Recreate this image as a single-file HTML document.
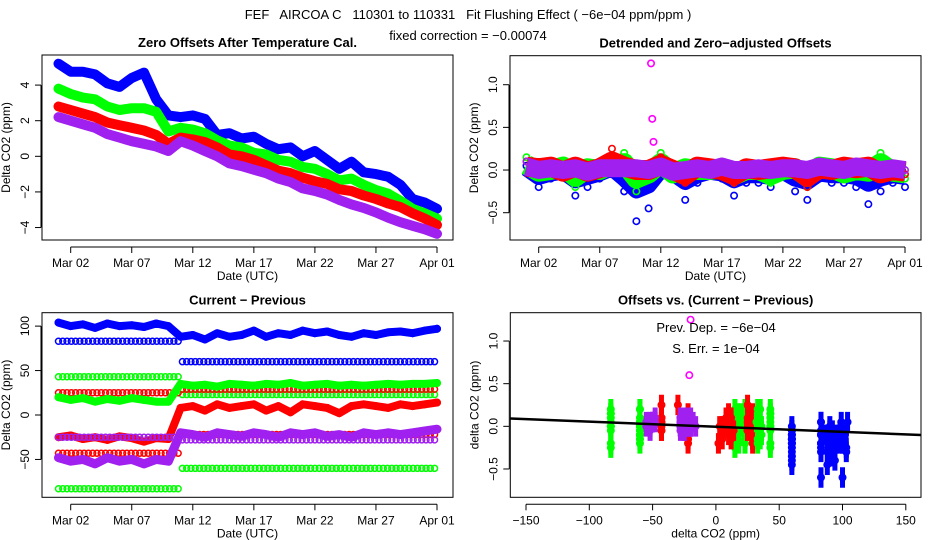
<!DOCTYPE html>
<html><head><meta charset="utf-8"><style>
html,body{margin:0;padding:0;background:#fff;}
svg{display:block;font-family:"Liberation Sans",sans-serif;}
</style></head><body>
<svg id="c" width="936" height="540" xmlns="http://www.w3.org/2000/svg">
<text x="468" y="19" text-anchor="middle" font-size="13" xml:space="preserve">FEF   AIRCOA C   110301 to 110331   Fit Flushing Effect ( −6e−04 ppm/ppm )</text>
<text x="468" y="40" text-anchor="middle" font-size="13">fixed correction = −0.00074</text>
</svg>
<script>
// ---- data ----
const days=[0,1,2,3,4,5,6,7,8,9,10,11,12,13,14,15,16,17,18,19,20,21,22,23,24,25,26,27,28,29,30,31];
const dateTicks=[1,6,11,16,21,26,31];
const dateLabels=["Mar 02","Mar 07","Mar 12","Mar 17","Mar 22","Mar 27","Apr 01"];
// panel 1 offsets
const offBlue=[5.2,4.75,4.75,4.6,4.1,3.9,4.4,4.7,3.2,2.3,2.2,2.3,2.1,1.2,1.3,1.0,1.1,0.7,0.4,0.5,0.0,0.3,-0.2,-0.7,-0.3,-0.9,-1.0,-1.15,-1.6,-2.4,-2.6,-2.95];
const offGreen=[3.8,3.5,3.3,3.2,2.8,2.6,2.7,2.7,2.5,1.4,1.6,1.5,1.3,0.9,0.6,0.5,0.2,0.1,-0.2,-0.3,-0.6,-0.7,-1.0,-1.35,-1.25,-1.6,-1.9,-2.1,-2.5,-2.95,-3.2,-3.5];
const offRed=[2.8,2.6,2.4,2.2,1.9,1.75,1.6,1.45,1.2,0.7,1.05,0.95,0.8,0.5,0.1,0.0,-0.2,-0.5,-0.8,-0.95,-1.2,-1.4,-1.55,-1.85,-1.95,-2.2,-2.4,-2.65,-2.85,-3.2,-3.5,-3.85];
const offPurple=[2.2,2.0,1.8,1.6,1.25,1.05,0.85,0.7,0.55,0.3,0.85,0.6,0.3,0.0,-0.4,-0.55,-0.75,-0.95,-1.25,-1.45,-1.8,-1.95,-2.15,-2.45,-2.7,-2.9,-3.15,-3.45,-3.7,-3.9,-4.1,-4.35];
const yTicks1=[-4,-2,0,2,4];
// panel 2 residuals
const resBlue=[0.05,-0.2,-0.1,-0.05,-0.3,-0.2,-0.1,0.05,-0.25,-0.6,-0.45,0.0,-0.1,-0.35,-0.15,-0.05,-0.1,-0.3,-0.15,-0.15,-0.2,-0.05,-0.25,-0.35,-0.1,-0.15,-0.15,-0.2,-0.4,-0.25,-0.15,-0.2];
const resGreen=[0.15,-0.05,0.0,0.1,-0.2,0.05,0.0,0.15,0.2,-0.25,-0.1,0.2,-0.1,0.05,0.0,0.0,0.05,-0.15,0.0,0.0,-0.15,0.0,0.05,-0.2,0.1,0.05,-0.1,0.0,-0.05,0.2,-0.05,-0.1];
const resRed=[0.1,0.05,0.1,-0.05,0.1,-0.05,0.05,0.25,0.1,0.0,0.0,0.15,0.0,-0.15,0.1,0.05,0.0,-0.15,0.05,0.0,0.05,0.1,0.05,-0.2,0.05,0.0,0.1,0.05,0.1,-0.1,0.0,-0.05];
const resPurple=[0.1,0.0,0.05,0.0,0.05,-0.05,0.05,0.05,0.05,0.05,0.0,0.1,-0.05,0.0,0.05,0.0,0.1,0.0,0.0,0.05,0.0,0.05,0.05,0.0,0.1,0.05,0.0,0.1,0.05,0.0,0.05,0.0];
const outDays=[10.2,10.3,10.4];
const outPurple=[1.25,0.6,0.33];
const yTicks2=[-0.5,0.0,0.5,1.0];
const yLabels2=["−0.5","0.0","0.5","1.0"];
// panel 3 current - previous
const cpBlue=[104,100,102,98,103,100,101,99,103,100,88,90,85,92,88,90,95,88,92,90,95,92,94,90,88,92,90,93,94,92,95,97];
const cpGreen=[20,17,19,15,18,16,19,17,15,15,35,33,34,32,35,34,33,35,34,36,33,34,35,33,34,33,34,35,34,35,35,36];
const cpRed=[-25,-23,-27,-25,-28,-24,-26,-30,-26,-27,8,10,5,12,8,10,12,5,10,3,12,10,8,2,10,12,10,8,12,10,12,14];
const cpPurple=[-48,-52,-50,-55,-48,-52,-50,-55,-50,-52,-20,-22,-25,-20,-22,-24,-20,-22,-25,-20,-22,-20,-24,-22,-25,-20,-22,-20,-22,-20,-18,-16];
const constBlue=[83,60];
const constGreenA=[43,23];
const constGreenB=[-83,-60];
const constRedA=[25,29];
const constRedB=[-43,-22];
const constPurple=[-25,-28];
const breakDay=9.8;
const yTicks3=[-50,0,50,100];
const yLabels3=["−50","0","50","100"];
// panel 4
const xTicks4=[-150,-100,-50,0,50,100,150];
const xLabels4=["−150","−100","−50","0","50","100","150"];
const fitSlope=-6e-4;
const fitIntercept=-0.005;

const C={blue:"#0000ff",green:"#00ff00",red:"#ff0000",purple:"#a020f0"};
const svg=document.getElementById('c');
const NS="http://www.w3.org/2000/svg";
function mk(tag,attrs,parent){const e=document.createElementNS(NS,tag);for(const k in attrs)e.setAttribute(k,attrs[k]);(parent||svg).appendChild(e);return e;}

function panel(o){
  o.sx=v=>o.x0+(v-o.xmin)/(o.xmax-o.xmin)*(o.x1-o.x0);
  o.sy=v=>o.y1-(v-o.ymin)/(o.ymax-o.ymin)*(o.y1-o.y0);
  const g=mk('g',{});
  
  
  o.g=g;
  const clip=mk('clipPath',{id:o.name+'-clip'},g);
  mk('rect',{x:o.x0,y:o.y0,width:o.x1-o.x0,height:o.y1-o.y0},clip);
  o.plot=mk('g',{'clip-path':'url(#'+o.name+'-clip)'},g);
  
  
  return o;
}
function frame(o,title,xt,xl,yt,yl,xlab,ylab){
  const g=o.g;
  const b=mk('rect',{x:o.x0,y:o.y0,width:o.x1-o.x0,height:o.y1-o.y0,fill:'none',stroke:'#000','stroke-width':1},g);
  
  
  const t=mk('text',{x:(o.x0+o.x1)/2,y:o.y0-8,'text-anchor':'middle','font-size':13,'font-weight':'bold'},g);
  t.textContent=title;
  
  
  const ax=mk('g',{},g);
  
  
  const yb=o.y1+7;
  mk('line',{x1:o.sx(xt[0]),x2:o.sx(xt[xt.length-1]),y1:yb,y2:yb,stroke:'#000'},ax);
  xt.forEach((v,i)=>{const x=o.sx(v);mk('line',{x1:x,x2:x,y1:yb,y2:yb+6,stroke:'#000'},ax);
    const tx=mk('text',{x:x,y:yb+20,'text-anchor':'middle','font-size':12},ax);tx.textContent=xl[i];
    
    });
  const xlt=mk('text',{x:(o.x0+o.x1)/2,y:yb+33,'text-anchor':'middle','font-size':12},ax);xlt.textContent=xlab;
  
  
  const ay=mk('g',{},g);
  
  
  const xb=o.x0-1;
  mk('line',{x1:xb,x2:xb,y1:o.sy(yt[0]),y2:o.sy(yt[yt.length-1]),stroke:'#000'},ay);
  yt.forEach((v,i)=>{const y=o.sy(v);mk('line',{x1:xb,x2:xb-6,y1:y,y2:y,stroke:'#000'},ay);
    const tx=mk('text',{x:xb-12,y:y,'text-anchor':'middle','font-size':12,transform:'rotate(-90 '+(xb-12)+' '+y+')'},ay);tx.textContent=yl[i];
    
    });
  const cy=(o.y0+o.y1)/2, cx=o.x0-32;
  const ylt=mk('text',{x:cx,y:cy,'text-anchor':'middle','font-size':12,transform:'rotate(-90 '+cx+' '+cy+')'},ay);ylt.textContent=ylab;
  
  
}
function series(o,xs,ys,col,w,name){
  const g=mk('g',{},o.plot);
  
  
  const pts=xs.map((x,i)=>o.sx(x).toFixed(1)+','+o.sy(ys[i]).toFixed(1)).join(' ');
  mk('polyline',{points:pts,fill:'none',stroke:col,'stroke-width':w,'stroke-linejoin':'round','stroke-linecap':'round'},g);
  xs.forEach((x,i)=>{const c=mk('circle',{cx:o.sx(x),cy:o.sy(ys[i]),r:3.2,fill:'none',stroke:col,'stroke-width':1.6},g);
    
    });
}
function resSeries(o,xs,ys,col,w,name){
  const g=mk('g',{},o.plot);
  
  
  const pts=xs.map((x,i)=>o.sx(x).toFixed(1)+','+o.sy(ys[i]*0.4).toFixed(1)).join(' ');
  mk('polyline',{points:pts,fill:'none',stroke:col,'stroke-width':w,'stroke-linejoin':'round'},g);
  xs.forEach((x,i)=>{const c=mk('circle',{cx:o.sx(x),cy:o.sy(ys[i]),r:3.2,fill:'none',stroke:col,'stroke-width':1.6},g);
    
    });
}
function constRow(o,lev,col,name){
  const g=mk('g',{},o.plot);
  
  
  for(let t=0;t<=31;t+=0.35){
    const v=t<breakDay?lev[0]:lev[1];
    const c=mk('circle',{cx:o.sx(t),cy:o.sy(v),r:3,fill:'none',stroke:col,'stroke-width':1.5},g);
    
    
  }
}

// Panel 1
const p1=panel({name:'panel-zero-offsets',x0:42,x1:453,y0:55,y1:240,xmin:-1.35,xmax:32.31,ymin:-4.70,ymax:5.69});
series(p1,days,offBlue,C.blue,10,'series-blue');
series(p1,days,offGreen,C.green,10,'series-green');
series(p1,days,offRed,C.red,10,'series-red');
series(p1,days,offPurple,C.purple,10,'series-purple');
frame(p1,'Zero Offsets After Temperature Cal.',dateTicks,dateLabels,yTicks1,["−4","−2","0","2","4"],'Date (UTC)','Delta CO2 (ppm)');

// Panel 2
const p2=panel({name:'panel-detrended',x0:510,x1:921,y0:55.7,y1:240,xmin:-1.35,xmax:32.31,ymin:-0.82,ymax:1.34});
resSeries(p2,days,resBlue,C.blue,16,'series-blue');
resSeries(p2,days,resGreen,C.green,20,'series-green');
resSeries(p2,days,resRed,C.red,20,'series-red');
resSeries(p2,days,resPurple,C.purple,18,'series-purple');
outDays.forEach((t,i)=>{const c=mk('circle',{cx:p2.sx(t),cy:p2.sy(outPurple[i]),r:3.2,fill:'none',stroke:'#ff00ff','stroke-width':1.6},p2.plot);
  
  });
frame(p2,'Detrended and Zero−adjusted Offsets',dateTicks,dateLabels,yTicks2,yLabels2,'Date (UTC)','Delta CO2 (ppm)');

// Panel 3
const p3=panel({name:'panel-current-previous',x0:42,x1:453,y0:312.7,y1:497.3,xmin:-1.35,xmax:32.31,ymin:-92.6,ymax:115.1});
constRow(p3,constBlue,C.blue,'const-blue');
constRow(p3,constGreenA,C.green,'const-green-a');
constRow(p3,constGreenB,C.green,'const-green-b');
constRow(p3,constRedA,C.red,'const-red-a');
constRow(p3,constRedB,C.red,'const-red-b');
series(p3,days,cpBlue,C.blue,8,'series-blue');
series(p3,days,cpGreen,C.green,8,'series-green');
series(p3,days,cpRed,C.red,8,'series-red');
series(p3,days,cpPurple,C.purple,9,'series-purple');
constRow(p3,constPurple,C.purple,'const-purple');
frame(p3,'Current − Previous',dateTicks,dateLabels,yTicks3,yLabels3,'Date (UTC)','Delta CO2 (ppm)');

// Panel 4
const p4=panel({name:'panel-offsets-vs-diff',x0:510.3,x1:921,y0:312.7,y1:497.3,xmin:-162.4,xmax:162,ymin:-0.832,ymax:1.332});
function scat(xs,ys,col,name){
  const g=mk('g',{},p4.plot);
  
  
  xs.forEach((x,i)=>{
    mk('line',{x1:p4.sx(x),x2:p4.sx(x),y1:p4.sy(ys[i]+0.12),y2:p4.sy(ys[i]-0.12),stroke:col,'stroke-width':5},g);
    const c=mk('circle',{cx:p4.sx(x),cy:p4.sy(ys[i]),r:3.2,fill:'none',stroke:col,'stroke-width':1.6},g);
    
    
  });
}
const lv=(lev)=>days.map(t=>t<breakDay?lev[0]:lev[1]);
scat(lv(constGreenB),resGreen,C.green,'scatter-green-const-b');
scat(lv(constGreenA),resGreen,C.green,'scatter-green-const-a');
scat(lv(constRedB),resRed,C.red,'scatter-red-const-b');
scat(lv(constRedA),resRed,C.red,'scatter-red-const-a');
scat(lv(constBlue),resBlue,C.blue,'scatter-blue-const');
scat(cpBlue,resBlue,C.blue,'scatter-blue');
scat(cpGreen,resGreen,C.green,'scatter-green');
scat(cpRed,resRed,C.red,'scatter-red');
scat(cpPurple,resPurple,C.purple,'scatter-purple');
scat(lv(constPurple),resPurple,C.purple,'scatter-purple-const');
[[-20,1.25],[-21,0.6]].forEach(p=>{const c=mk('circle',{cx:p4.sx(p[0]),cy:p4.sy(p[1]),r:3.2,fill:'none',stroke:'#ff00ff','stroke-width':1.6},p4.plot);
  
  });
const fl=mk('line',{x1:p4.sx(-162.4),y1:p4.sy(fitIntercept+fitSlope*-162.4),x2:p4.sx(162),y2:p4.sy(fitIntercept+fitSlope*162),stroke:'#000','stroke-width':2.5},p4.plot);


const t1=mk('text',{x:716,y:332,'text-anchor':'middle','font-size':13},p4.g);t1.textContent='Prev. Dep. =  −6e−04';


const t2=mk('text',{x:716,y:353,'text-anchor':'middle','font-size':13},p4.g);t2.textContent='S. Err. =  1e−04';


frame(p4,'Offsets vs. (Current − Previous)',xTicks4,xLabels4,yTicks2,yLabels2,'delta CO2 (ppm)','delta CO2 (ppm)');
</script>
</body></html>
